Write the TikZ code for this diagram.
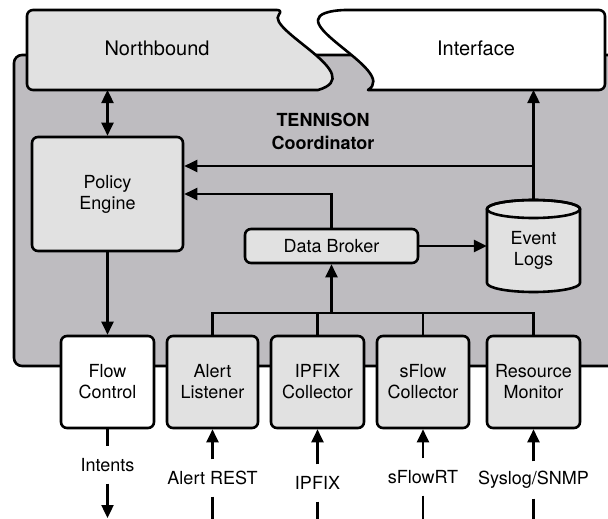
\documentclass[tikz,border=0pt]{standalone}
\usepackage{fontspec}
\setmainfont{TeX Gyre Heros}
\usetikzlibrary{arrows.meta}
\definecolor{panelgrey}{RGB}{190,188,192}
\definecolor{boxgrey}{RGB}{225,225,225}
\begin{document}
\begin{tikzpicture}[x=1pt,y=-1pt,
  every node/.style={font=\fontsize{18}{21}\selectfont},
  box/.style={draw, line width=2.6pt, rounded corners=6pt, fill=boxgrey, align=center, inner sep=0pt},
  wbox/.style={box, fill=white},
  outline/.style={draw, line width=2.6pt, line join=round},
  lbl/.style={inner sep=0pt, minimum height=37pt},
  wire/.style={line width=2.4pt},
  arr/.style={wire, -{Triangle[length=13pt,width=12pt]}},
  darr/.style={wire, {Triangle[length=13pt,width=12pt]}-{Triangle[length=13pt,width=12pt]}},
  bigtext/.style={font=\fontsize{20}{24}\selectfont},
]
\useasboundingbox (0,0) rectangle (608,519);
\clip (0,0) rectangle (608,519);

% coordinator panel
\filldraw[fill=panelgrey, line width=2.6pt, rounded corners=8pt] (14,55) rectangle (640,366);

% northbound interface, split in two torn halves
\filldraw[outline, fill=boxgrey] (283,10) .. controls (265,30) and (370,75) .. (318,90)
  [rounded corners=6pt] -- (27,90) -- (27,10) -- cycle;
\filldraw[outline, fill=white] (340,10) .. controls (275,20) and (400,70) .. (368,90)
  [rounded corners=6pt] -- (605,90) -- (605,10) -- cycle;
\node[bigtext] (nbtext) at (157,48) {Northbound};
\node[bigtext] (iftext) at (476,48) {Interface};
\coordinate (nbport) at (107.5,90);
\coordinate (ifport) at (533.5,90);

% title
\node[font=\fontsize{18}{23}\selectfont\bfseries, align=center] (title) at (323,131) {TENNISON\\Coordinator};

% inner components
\node[box, minimum width=151pt, minimum height=114pt] (policy) at (107.5,194) {Policy\\Engine};
\node[box, minimum width=173pt, minimum height=34pt] (broker) at (331.5,246) {Data Broker};

% event log store
\filldraw[outline, fill=boxgrey] (487,209) -- (487,283)
  arc[start angle=180, end angle=360, x radius=46.5pt, y radius=9pt] -- (580,209)
  arc[start angle=0, end angle=180, x radius=46.5pt, y radius=9pt] -- cycle;
\draw[line width=2.6pt] (533.5,209) ellipse [x radius=46.5pt, y radius=9pt];
\node[inner sep=0pt, minimum width=93pt, minimum height=92pt] (logs) at (533.5,246) {};
\node[align=center] (logtext) at (533.5,250) {Event\\Logs};

% edge modules
\node[wbox, minimum width=93pt, minimum height=92pt] (flow) at (107.5,382) {Flow\\Control};
\node[box, minimum width=91pt, minimum height=92pt] (alert) at (212.5,382) {Alert\\Listener};
\node[box, minimum width=93pt, minimum height=92pt] (ipfix) at (317.5,382) {IPFIX\\Collector};
\node[box, minimum width=92pt, minimum height=92pt] (sflow) at (423,382) {sFlow\\Collector};
\node[box, minimum width=93pt, minimum height=92pt] (res) at (533.5,382) {Resource\\Monitor};

% internal connectors
\coordinate (tap) at (533.5,166);
\coordinate (bus) at (331.5,313);
\draw[darr] (nbport) -- (policy.north);
\draw[arr] (logs.north) -- (ifport);
\draw[arr] (tap) -- (policy.east |- tap);
\draw[arr] (broker.north) |- (policy.east);
\draw[arr] (broker.east) -- (logs.west);
\draw[arr] (policy.south) -- (flow.north);
\draw[wire] (alert.north) -- (alert.north |- bus) -- (res.north |- bus) -- (res.north);
\draw[wire] (ipfix.north) -- (ipfix.north |- bus);
\draw[wire] (sflow.north) -- (sflow.north |- bus);
\draw[arr] (bus) -- (broker.south);

% external feeds
\node[lbl] (inT) at (107.5,465) {Intents};
\node[lbl] (inA) at (212.5,478) {Alert REST};
\node[lbl] (inI) at (317.5,483) {IPFIX};
\node[lbl] (inS) at (423,477) {sFlowRT};
\node[lbl] (inR) at (533.5,480) {Syslog/SNMP};
\coordinate (outT) at (107.5,518);
\coordinate (srcA) at (212.5,530);
\coordinate (srcI) at (317.5,530);
\coordinate (srcS) at (423,530);
\coordinate (srcR) at (533.5,530);

\draw[wire] (flow.south) -- (inT.north);
\draw[arr] (inT.south) -- (outT);
\draw[arr] (inA.north) -- (alert.south);
\draw[wire] (inA.south) -- (srcA);
\draw[arr] (inI.north) -- (ipfix.south);
\draw[wire] (inI.south) -- (srcI);
\draw[arr] (inS.north) -- (sflow.south);
\draw[wire] (inS.south) -- (srcS);
\draw[arr] (inR.north) -- (res.south);
\draw[wire] (inR.south) -- (srcR);
\end{tikzpicture}
\end{document}
